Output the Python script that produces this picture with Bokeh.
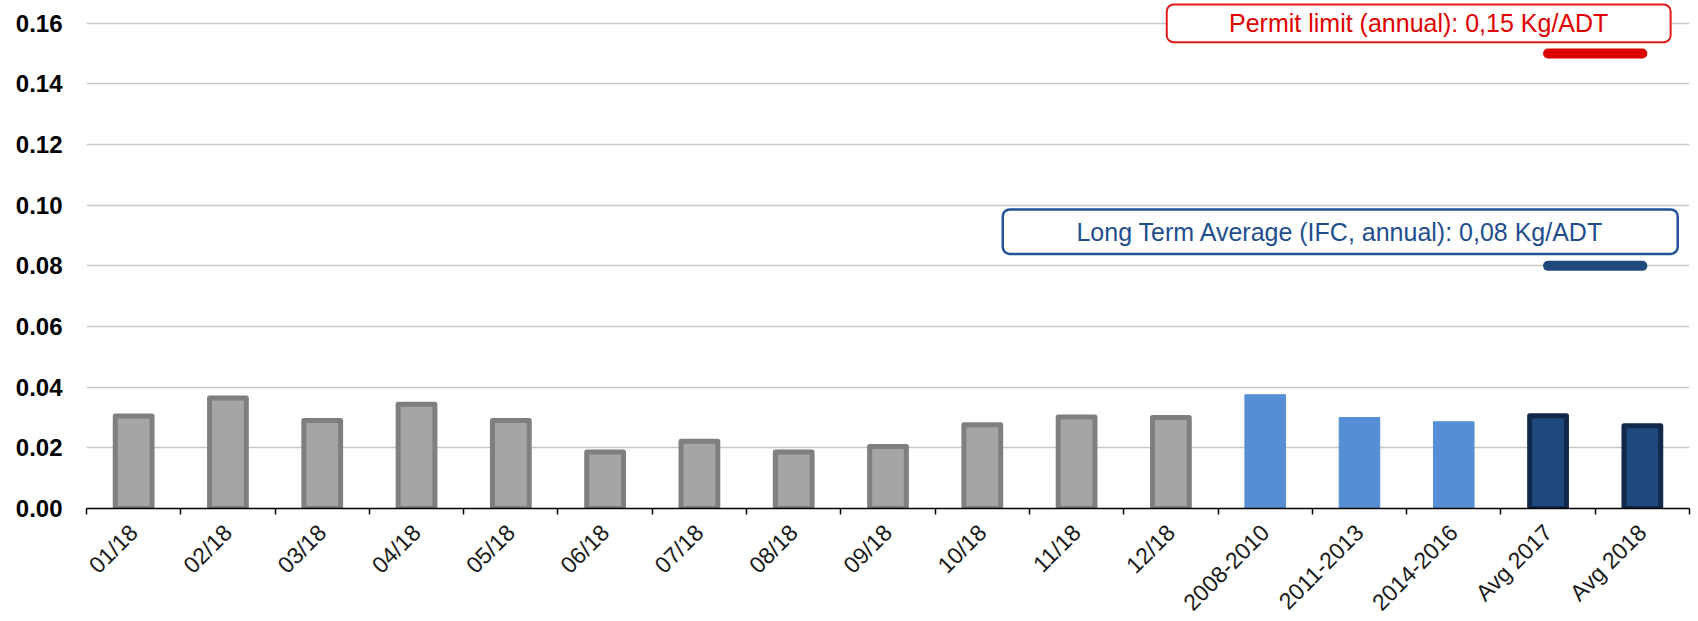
import math
from bokeh.plotting import figure
from bokeh.models import ColumnDataSource, Range1d, FixedTicker, BoxAnnotation, Label
from bokeh.embed import file_html
from bokeh.resources import INLINE

# ---------------- data ----------------
months = ["01/18", "02/18", "03/18", "04/18", "05/18", "06/18",
          "07/18", "08/18", "09/18", "10/18", "11/18", "12/18"]
month_values = [0.0305, 0.0364, 0.0290, 0.0344, 0.0290, 0.0186,
                0.0222, 0.0186, 0.0204, 0.0276, 0.0302, 0.0300]

periods = ["2008-2010", "2011-2013", "2014-2016"]
period_values = [0.0375, 0.0300, 0.0286]

averages = ["Avg 2017", "Avg 2018"]
average_values = [0.0306, 0.0273]

limit_categories = ["Avg 2017", "Avg 2018"]
permit_limit = 0.15
long_term_average = 0.08
permit_label = "Permit limit (annual): 0,15 Kg/ADT"
lta_label = "Long Term Average (IFC, annual): 0,08 Kg/ADT"

y_ticks = [0.00, 0.02, 0.04, 0.06, 0.08, 0.10, 0.12, 0.14, 0.16]

# ---------------- layout helpers ----------------
categories = months + periods + averages
pos = {c: i + 0.5 for i, c in enumerate(categories)}
n = len(categories)

FONT = "Liberation Sans"

p = figure(frame_width=1603, frame_height=508,
           x_range=Range1d(0, n), y_range=Range1d(0, 0.16748),
           output_backend="svg", toolbar_location=None,
           min_border_left=86, min_border_right=9, min_border_top=0,
           min_border_bottom=113, background_fill_color="white",
           border_fill_color="white")
p.outline_line_color = None

# bars
src_m = ColumnDataSource(dict(x=[pos[c] for c in months], top=month_values))
src_p = ColumnDataSource(dict(x=[pos[c] for c in periods], top=period_values))
src_a = ColumnDataSource(dict(x=[pos[c] for c in averages], top=average_values))

p.vbar(x="x", top="top", bottom=0, width=0.39, source=src_m,
       fill_color="#a5a5a5", line_color="#7f7f7f", line_width=5,
       line_join="round")
p.vbar(x="x", top="top", bottom=0, width=0.43, source=src_p,
       fill_color="#558ed5", line_color="#558ed5", line_width=1,
       line_join="round")
p.vbar(x="x", top="top", bottom=0, width=0.39, source=src_a,
       fill_color="#1f497d", line_color="#11284a", line_width=5,
       line_join="round")

# limit lines
p.line(x=[pos[c] for c in limit_categories], y=[permit_limit] * len(limit_categories),
       line_width=10, line_cap="round", line_color="#dd0000")
p.line(x=[pos[c] for c in limit_categories], y=[long_term_average] * len(limit_categories),
       line_width=10, line_cap="round", line_color="#1f497d")

# annotation boxes
red_box = dict(left=11.456, right=16.80, bottom=permit_limit + 0.0037, top=permit_limit + 0.0162)
blue_box = dict(left=9.717, right=16.875, bottom=long_term_average + 0.0039, top=long_term_average + 0.0186)

p.add_layout(BoxAnnotation(**red_box, fill_color="white", fill_alpha=1.0,
                           line_color="#e21a1a", line_alpha=1.0, line_width=2,
                           border_radius=7))
p.add_layout(BoxAnnotation(**blue_box, fill_color="white", fill_alpha=1.0,
                           line_color="#1f5597", line_alpha=1.0, line_width=2.5,
                           border_radius=7))
p.add_layout(Label(x=(red_box["left"] + red_box["right"]) / 2,
                   y=(red_box["bottom"] + red_box["top"]) / 2,
                   text=permit_label, text_align="center", text_baseline="middle",
                   text_font=FONT, text_font_size="25px", text_color="#e00000"))
p.add_layout(Label(x=(blue_box["left"] + blue_box["right"]) / 2,
                   y=(blue_box["bottom"] + blue_box["top"]) / 2,
                   text=lta_label, text_align="center", text_baseline="middle",
                   text_font=FONT, text_font_size="25px", text_color="#1f4e8c"))

# x axis
xa = p.xaxis[0]
xa.ticker = FixedTicker(ticks=[pos[c] for c in categories], minor_ticks=list(range(n + 1)))
xa.major_label_overrides = {pos[c]: c for c in categories}
xa.major_label_orientation = math.pi / 4
xa.major_label_text_font = FONT
xa.major_label_text_font_size = "23px"
xa.major_label_text_color = "#1a1a1a"
xa.major_label_standoff = 14
xa.major_tick_line_color = None
xa.major_tick_out = 0
xa.major_tick_in = 0
xa.minor_tick_line_color = "black"
xa.minor_tick_line_width = 1.5
xa.minor_tick_out = 6
xa.minor_tick_in = 0
xa.axis_line_color = "black"
xa.axis_line_width = 1.5

# y axis
ya = p.yaxis[0]
ya.ticker = FixedTicker(ticks=y_ticks)
ya.major_label_overrides = {t: f"{t:.2f}" for t in y_ticks}
ya.major_label_text_font = FONT
ya.major_label_text_font_style = "bold"
ya.major_label_text_font_size = "24px"
ya.major_label_text_color = "black"
ya.major_label_standoff = 24
ya.major_tick_out = 0
ya.major_tick_in = 0
ya.axis_line_color = None
ya.major_tick_line_color = None
ya.minor_tick_line_color = None

p.xgrid.grid_line_color = None
p.ygrid.grid_line_color = "#c8c8c0"
p.ygrid.grid_line_width = 1.5

open("out.html", "w").write(file_html(p, INLINE))
